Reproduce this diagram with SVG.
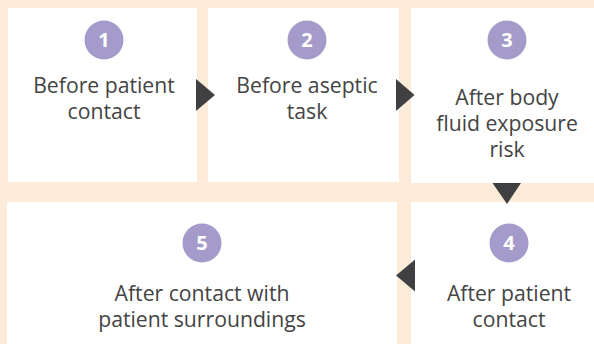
<svg xmlns="http://www.w3.org/2000/svg" width="594" height="344" viewBox="0 0 594 344">
<style>
.box{fill:#ffffff}
.num{fill:#a59bca}
.nt{font-family:"Open Sans","Noto Sans",sans-serif;font-size:20px;font-weight:bold;fill:#ffffff;text-anchor:middle}
.lbl{font-family:"Open Sans","Noto Sans",sans-serif;font-size:21.2px;fill:#444444;text-anchor:middle}
.arr{fill:#404042}
</style>
<rect width="594" height="344" fill="#fdebd9"/>
<g id="n1">
<rect class="box" x="8" y="8" width="189" height="174"/>
<circle class="num" cx="104" cy="40" r="19.5"/>
<text class="nt" x="104" y="47">1</text>
<text class="lbl" x="104" y="92.5">Before patient</text>
<text class="lbl" x="104" y="118.5">contact</text>
</g>
<g id="n2">
<rect class="box" x="208" y="8" width="191" height="174"/>
<circle class="num" cx="307" cy="40" r="19.5"/>
<text class="nt" x="307" y="47">2</text>
<text class="lbl" x="307" y="92.5">Before aseptic</text>
<text class="lbl" x="307" y="118.5">task</text>
</g>
<g id="n3">
<rect class="box" x="411" y="8" width="190" height="175"/>
<circle class="num" cx="507" cy="40" r="19.5"/>
<text class="nt" x="507" y="47">3</text>
<text class="lbl" x="507" y="105">After body</text>
<text class="lbl" x="507" y="131">fluid exposure</text>
<text class="lbl" x="507" y="157">risk</text>
</g>
<g id="n4">
<rect class="box" x="411" y="202" width="190" height="150"/>
<circle class="num" cx="509" cy="243" r="19.5"/>
<text class="nt" x="509" y="250">4</text>
<text class="lbl" x="509" y="300.5">After patient</text>
<text class="lbl" x="509" y="326.5">contact</text>
</g>
<g id="n5">
<rect class="box" x="7" y="202" width="390" height="150"/>
<circle class="num" cx="202" cy="243" r="19.5"/>
<text class="nt" x="202" y="250">5</text>
<text class="lbl" x="202" y="300.5">After contact with</text>
<text class="lbl" x="202" y="326.5">patient surroundings</text>
</g>
<g id="connectors">
<polygon class="arr" points="196,79 215,95 196,111"/>
<polygon class="arr" points="396,79 414.5,95 396,111"/>
<polygon class="arr" points="492.5,183 521,183 507,204"/>
<polygon class="arr" points="415,259.5 415,291.5 396,275.5"/>
</g>
</svg>
